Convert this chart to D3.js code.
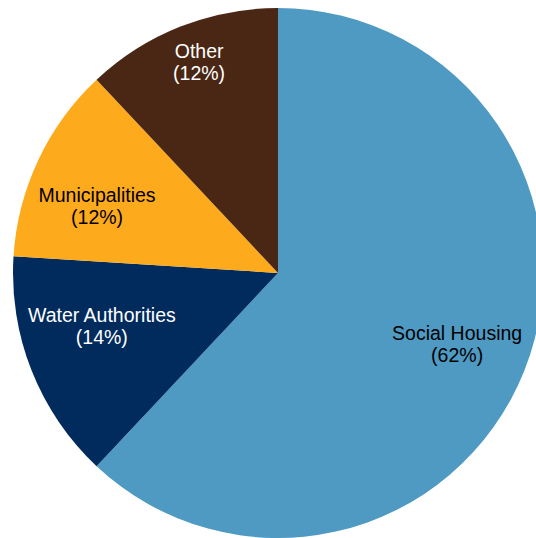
<!DOCTYPE html>
<html>
<head>
<meta charset="utf-8">
<script src="https://cdn.jsdelivr.net/npm/d3@7"></script>
<style>
  body { margin: 0; background: #fff; }
  text { font-family: "Liberation Sans", Arial, sans-serif; font-size: 19.5px; }
</style>
</head>
<body>
<div id="chart"></div>
<script>
// data
const categories = ['Social Housing', 'Water Authorities', 'Municipalities', 'Other']
const shares = [62, 14, 12, 12]

// styles
const colors = ['#4F9AC3', '#002B5C', '#FDAA1D', '#4A2614']
const textColors = ['#000', '#fff', '#000', '#fff']
// label placement: fraction of radius and angle nudge (degrees) from slice middle
const labelRadius = [0.727, 0.694, 0.728, 0.85]
const labelNudge = [0, 4.9, -4.9, 1.1]

const width = 536
const height = 538
const cx = 278
const cy = 273
const radius = 265

const svg = d3.select('#chart')
  .append('svg')
  .attr('width', width)
  .attr('height', height)

const main = svg.append('g')
  .attr('transform', `translate(${cx}, ${cy})`)

const dataset = categories.map((c, i) => ({ name: c, value: shares[i], i }))

const pie = d3.pie()
  .sort(null)
  .value(d => d.value)

const arc = d3.arc()
  .innerRadius(0)
  .outerRadius(radius)

const arcs = pie(dataset)

main.selectAll('path')
  .data(arcs)
  .enter()
  .append('path')
  .attr('d', arc)
  .attr('fill', d => colors[d.data.i])

const labels = main.selectAll('g.label')
  .data(arcs)
  .enter()
  .append('g')
  .attr('class', 'label')
  .attr('transform', d => {
    const r = radius * labelRadius[d.data.i]
    const a = (d.startAngle + d.endAngle) / 2 + labelNudge[d.data.i] * Math.PI / 180
    return `translate(${r * Math.sin(a)}, ${-r * Math.cos(a)})`
  })
  .attr('fill', d => textColors[d.data.i])
  .attr('text-anchor', 'middle')

labels.append('text')
  .attr('y', -11)
  .attr('dy', '0.35em')
  .text(d => d.data.name)

labels.append('text')
  .attr('y', 11)
  .attr('dy', '0.35em')
  .text(d => `(${d.data.value}%)`)
</script>
</body>
</html>
